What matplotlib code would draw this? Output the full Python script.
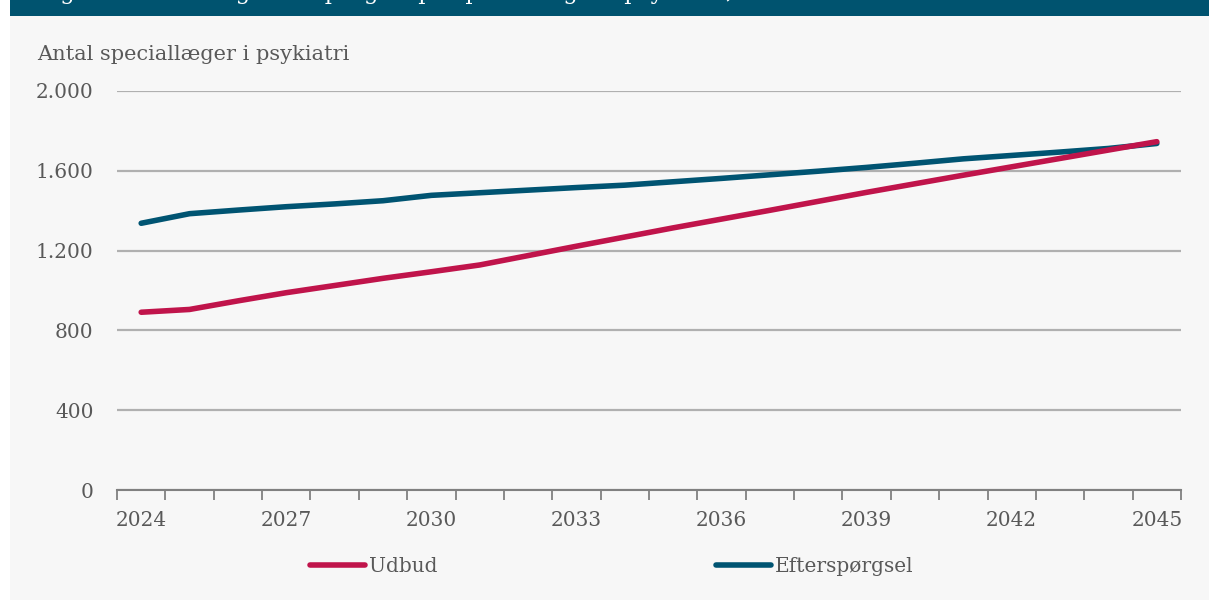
import matplotlib.pyplot as plt
from matplotlib.patches import Rectangle
from matplotlib.ticker import FuncFormatter, FixedLocator

years = list(range(2024, 2046))
udbud = [891, 905, 948, 989, 1025, 1061, 1094, 1128, 1175, 1222, 1268,
         1314, 1358, 1402, 1447, 1492, 1535, 1578, 1620, 1662, 1704, 1746]
efterspoergsel = [1337, 1385, 1403, 1420, 1434, 1450, 1477, 1490, 1503, 1516, 1528,
                  1545, 1562, 1580, 1598, 1617, 1638, 1660, 1677, 1694, 1712, 1737]
label_years = [2024, 2027, 2030, 2033, 2036, 2039, 2042, 2045]
y_ticks = [0, 400, 800, 1200, 1600, 2000]

red = "#c0144b"
teal = "#005472"
grey_text = "#595959"
fs = 14.5

plt.rcParams['font.family'] = ['DejaVu Serif']

fig = plt.figure(figsize=(12.09, 6.0), dpi=100)
fig.patch.set_facecolor("white")

# panel background and top banner
fig.patches.append(Rectangle((10 / 1209, 0), 1, 1 - 16 / 600, transform=fig.transFigure,
                             facecolor="#f7f7f7", edgecolor="none", zorder=-10))
fig.patches.append(Rectangle((10 / 1209, 1 - 16 / 600), 1, 16 / 600, transform=fig.transFigure,
                             facecolor="#00536f", edgecolor="none", zorder=-10))
# title sits mostly above the visible area, as in the source
fig.text(37 / 1209, 1 + 1 / 600,
         "Figur 3. Udbud og efterspørgsel på speciallæger i psykiatri, 2024-2045",
         color="white", fontsize=16.5, va="baseline", ha="left")

ax = fig.add_axes([117 / 1209, 1 - 490 / 600, (1181 - 117) / 1209, (490 - 91) / 600])
ax.set_facecolor("none")

x = list(range(len(years)))
ax.plot(x, efterspoergsel, color=teal, lw=4, solid_capstyle="round", label="Efterspørgsel", zorder=3)
ax.plot(x, udbud, color=red, lw=4, solid_capstyle="round", label="Udbud", zorder=4)

ax.set_xlim(-0.5, len(years) - 0.5)
ax.set_ylim(0, 2000)
ax.set_yticks(y_ticks)
ax.yaxis.set_major_formatter(FuncFormatter(lambda v, p: f"{int(v):,}".replace(",", ".")))
ax.grid(axis="y", color="#b0b0b0", lw=1.6)
ax.set_axisbelow(True)

ax.set_xticks([years.index(y) for y in label_years])
ax.set_xticklabels([str(y) for y in label_years])
ax.xaxis.set_minor_locator(FixedLocator([i - 0.5 for i in range(len(years) + 1)]))
ax.tick_params(axis="x", which="major", length=0, pad=15, labelsize=fs, labelcolor=grey_text)
ax.tick_params(axis="x", which="minor", length=7, width=1.3, color="#808080")
ax.tick_params(axis="y", length=0, pad=17, labelsize=fs, labelcolor=grey_text)

for s in ["top", "right", "left"]:
    ax.spines[s].set_visible(False)
ax.spines["bottom"].set_color("#808080")
ax.spines["bottom"].set_linewidth(1.5)
ax.spines["bottom"].set_zorder(5)

fig.text(37 / 1209, 1 - 55 / 600, "Antal speciallæger i psykiatri", color=grey_text,
         fontsize=15, va="center", ha="left")

handles, labels = ax.get_legend_handles_labels()
leg = fig.legend(handles[::-1], labels[::-1], loc="center left",
                 bbox_to_anchor=(310 / 1209, 1 - 567 / 600), ncol=2, frameon=False,
                 fontsize=fs, handlelength=2.75, handletextpad=0.2, columnspacing=13.8,
                 borderpad=0, borderaxespad=0)
for t in leg.get_texts():
    t.set_color(grey_text)

fig.savefig("out.png", dpi=100, facecolor=fig.get_facecolor())
